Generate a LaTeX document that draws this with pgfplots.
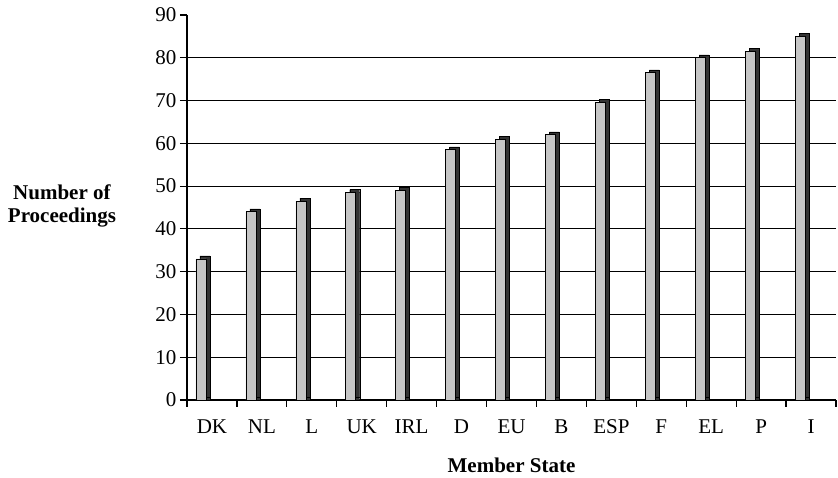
\documentclass[border=0pt]{standalone}
\usepackage{fontspec}
\setmainfont{Liberation Serif}
\usepackage{pgfplots}
\pgfplotsset{compat=1.18}
\usepackage{pgfplotstable}

\pgfplotstableread{
idx state value
0  DK  33
1  NL  44
2  L   46.5
3  UK  48.5
4  IRL 49
5  D   58.5
6  EU  61
7  B   62
8  ESP 69.5
9  F   76.5
10 EL  80
11 P   81.5
12 I   85
}\proceedings

\newcommand{\lbl}{\fontsize{21}{23}\selectfont}

\begin{document}
\begin{tikzpicture}
  \begin{axis}[
    scale only axis,
    width=649pt, height=385pt,
    xmin=-0.5, xmax=12.5,
    ymin=0, ymax=90,
    axis x line*=bottom,
    axis y line*=left,
    axis line style={black, line width=1.2pt},
    xtick={-0.5,0.5,...,12.5},
    xticklabels={},
    extra x ticks={0,...,12},
    extra x tick labels={DK,NL,L,UK,IRL,D,EU,B,ESP,F,EL,P,I},
    extra x tick style={major tick length=0pt, tick label style={yshift=-16pt}},
    ytick={0,10,...,90},
    extra y ticks={10,20,...,80},
    extra y tick labels={},
    extra y tick style={major tick length=0pt, ymajorgrids=true},
    major grid style={black, line width=1pt},
    tick style={black, line width=1.2pt},
    major tick length=7pt,
    tick align=outside,
    tick label style={font=\lbl},
    /pgf/number format/assume math mode=true,
    xlabel={\textbf{Member State}},
    xlabel style={font=\lbl, anchor=center, at={(rel axis cs:0.5,-0.169)}},
    ylabel={\textbf{Number of}\\\textbf{Proceedings}},
    ylabel style={font=\lbl, rotate=-90, align=center, anchor=center, at={(rel axis cs:-0.1926,0.505)}},
    ybar, bar width=10pt,
  ]
    % dark side and top of the 3D columns
    \addplot[draw=black, fill=black!80, bar shift=-7pt] table[x=idx, y=value] {\proceedings};
    \addplot[draw=black, fill=black!80, bar shift=-7pt, yshift=3pt] table[x=idx, y=value] {\proceedings};
    % front face
    \addplot[draw=black, line width=0.6pt, fill=gray!45, bar shift=-11pt] table[x=idx, y=value] {\proceedings};
    \coordinate (bl) at (rel axis cs:0,0);
  \end{axis}
  \pgfresetboundingbox
  \path[use as bounding box] ([xshift=-187pt,yshift=-78pt]bl) rectangle ([xshift=651pt,yshift=400pt]bl);
\end{tikzpicture}
\end{document}
